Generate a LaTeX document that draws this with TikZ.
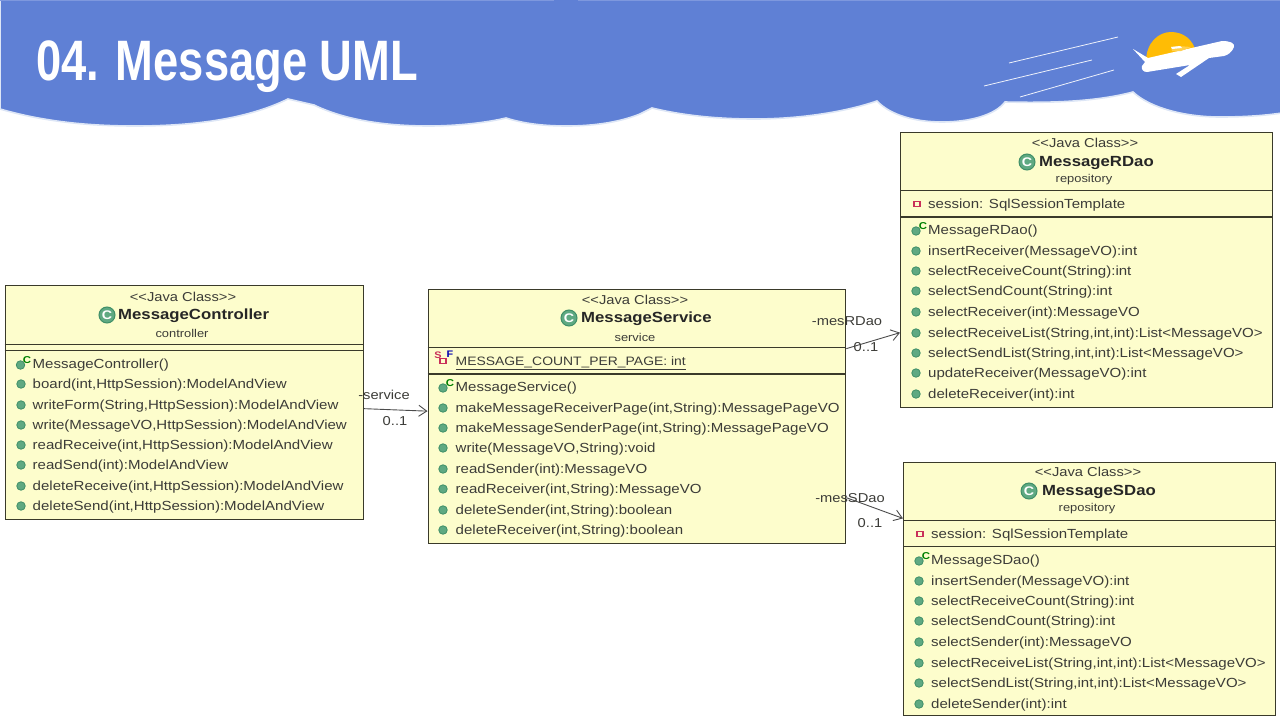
\documentclass[tikz,border=0pt]{standalone}
\usepackage{fontspec}
\usetikzlibrary{arrows.meta}
\newfontfamily\umlfont[FakeStretch=1.14]{Liberation Sans}
\newfontfamily\titlefont[FakeStretch=0.795]{Liberation Sans}
\definecolor{bannerblue}{HTML}{5F80D5}
\definecolor{bannerrim}{HTML}{DDE6F6}
\definecolor{bannertop}{HTML}{7E98DE}
\definecolor{sunyellow}{HTML}{FFBC05}
\definecolor{boxfill}{HTML}{FDFDCC}
\definecolor{boxline}{HTML}{3A3A2A}
\definecolor{membertext}{HTML}{3C3C38}
\definecolor{bulletfill}{HTML}{5FA982}
\definecolor{bulletline}{HTML}{3F8F68}
\definecolor{fieldred}{HTML}{C9305A}
\tikzset{
  classbox/.style={draw=boxline, fill=boxfill, line width=1.3pt, inner sep=0pt, anchor=north west},
  sectionrule/.style={draw=boxline, line width=1.2pt},
  stereotype/.style={inner sep=0pt, text=membertext, font=\umlfont\fontsize{12.9}{15}\selectfont},
  classname/.style={inner sep=0pt, anchor=mid west, yshift=-2.5pt, text=black!85, font=\umlfont\bfseries\fontsize{14.7}{17}\selectfont},
  pkgname/.style={inner sep=0pt, text=membertext, font=\umlfont\fontsize{11.3}{13}\selectfont},
  member/.style={inner sep=0pt, anchor=mid west, yshift=-2.5pt, text=membertext, font=\umlfont\fontsize{13.2}{16}\selectfont},
  capsmember/.style={member, font=\umlfont\fontsize{12.2}{16}\selectfont},
  bullet/.style={circle, draw=bulletline, fill=bulletfill, line width=0.8pt, minimum size=8.5pt, inner sep=0pt},
  classicon/.style={circle, draw=bulletline, fill=bulletfill, line width=1pt, minimum size=16pt, inner sep=0pt, text=white, font=\umlfont\bfseries\fontsize{12.5}{12.5}\selectfont},
  ctormark/.style={inner sep=0pt, text=green!50!black, font=\umlfont\bfseries\fontsize{10}{10}\selectfont},
  fieldicon/.style={rectangle, draw=fieldred, fill=boxfill, line width=1.2pt, minimum width=6pt, minimum height=5pt, inner sep=0pt},
  assoc/.style={draw=black!70, line width=0.9pt, -{Straight Barb[length=8pt,width=11pt]}},
  rolelabel/.style={inner sep=0pt, text=membertext, font=\umlfont\fontsize{12.9}{15}\selectfont},
  speedline/.style={draw=white!90!bannerblue, line width=0.8pt},
}
\begin{document}
\begin{tikzpicture}[x=1pt, y=-1pt]
  \useasboundingbox (0,0) rectangle (1280,720);
  % banner
  \path[fill=bannerblue, draw=bannerrim, line width=1.6pt] (0,-2) -- (0,109)
    .. controls (45,122) and (90,126) .. (135,126)
    .. controls (190,126) and (245,120) .. (288,99)
    -- (314,105)
    .. controls (345,120) and (385,126) .. (429,126)
    .. controls (455,126) and (485,123) .. (506,118)
    .. controls (525,124) and (545,126) .. (567,126)
    .. controls (595,126) and (620,122) .. (640,114)
    -- (652,108)
    .. controls (685,116) and (720,119) .. (754,119)
    .. controls (800,119) and (845,112) .. (877,101)
    .. controls (890,115) and (915,122) .. (942,122)
    .. controls (970,122) and (995,115) .. (1005,102)
    .. controls (1050,103) and (1095,102) .. (1133,92)
    .. controls (1150,108) and (1185,117) .. (1220,117)
    .. controls (1240,117) and (1262,116) .. (1282,113)
    -- (1282,-2) -- cycle;
  \fill[bannertop] (0,0) rectangle (554,1.2);
  \fill[bannertop] (578,0) rectangle (1280,1.2);
  \node[inner sep=0pt, anchor=base west, text=white, font=\titlefont\bfseries\fontsize{57}{60}\selectfont] (title) at (36,80) {04. Message UML};
  % plane and sun
  \fill[sunyellow] (1146,62) .. controls (1146,42) and (1159,32) .. (1171,32) .. controls (1184,32) and (1193,40) .. (1196,52) -- cycle;
  \fill[white] (1133,49) -- (1148,58) -- (1222,41) .. controls (1230,41) and (1235,43) .. (1234,47) .. controls (1232,52) and (1228,55) .. (1224,56) -- (1209,58) -- (1181,77) -- (1176,74) -- (1190,65) -- (1147,72) .. controls (1143,72) and (1141,69) .. (1142,66) -- (1145,62) -- cycle;
  \fill[sunyellow!70!white] (1171,47) -- (1178,46) -- (1191,47) -- (1181,51) -- (1172,51) -- cycle;
  \fill[white] (1171,47) -- (1180,46) -- (1182,48) -- (1172,49) -- cycle;
  \draw[speedline] (1009,63) -- (1118,37);
  \draw[speedline] (984,86) -- (1092,60);
  \draw[speedline] (1020,97) -- (1114,70);
  % MessageController
  \node[classbox, minimum width=358pt, minimum height=234pt] (ctrl) at (4.5,285) {};
  \draw[sectionrule] (4.5,344.5) -- (362.5,344.5);
  \draw[sectionrule] (4.5,350.5) -- (362.5,350.5);
  \node[stereotype] (ctrlst) at (183,296.5) {<{}<Java Class>{}>};
  \node[classicon] (ctrlicon) at (107,315) {C};
  \node[classname] (ctrlname) at (118,315) {MessageController};
  \node[pkgname] (ctrlpkg) at (182,333) {controller};
  \node[bullet] (ctrlbc) at (20.5,365) {};
  \node[ctormark] (ctrlcm) at (27,360) {C};
  \node[member] (ctrlm) at (32.5,364) {MessageController()};
  \foreach \y/\txt in {384/{board(int,HttpSession):ModelAndView}, 405/{writeForm(String,HttpSession):ModelAndView}, 425/{write(MessageVO,HttpSession):ModelAndView}, 445/{readReceive(int,HttpSession):ModelAndView}, 465/{readSend(int):ModelAndView}, 486/{deleteReceive(int,HttpSession):ModelAndView}, 506/{deleteSend(int,HttpSession):ModelAndView}} {
    \node[bullet] (ctrlb\y) at (21,\y) {};
    \node[member] (ctrlm\y) at (32.5,\y) {\txt};
  }
  % MessageService
  \node[classbox, minimum width=417.5pt, minimum height=254pt] (svc) at (427.5,289) {};
  \draw[sectionrule] (427.5,347.5) -- (845,347.5);
  \draw[sectionrule] (427.5,374) -- (845,374);
  \node[stereotype] (svcst) at (635,300) {<{}<Java Class>{}>};
  \node[classicon] (svcicon) at (569,318) {C};
  \node[classname] (svcname) at (581,318) {MessageService};
  \node[pkgname] (svcpkg) at (635,337) {service};
  \node[fieldicon] (svcfi) at (443,361) {};
  \node[inner sep=0pt, text=fieldred, font=\umlfont\bfseries\fontsize{9.5}{10}\selectfont] (svcfs) at (438,355) {S};
  \node[inner sep=0pt, text=blue!70!black, font=\umlfont\bfseries\fontsize{9.5}{10}\selectfont] (svcff) at (450,354) {F};
  \node[capsmember] (svcattr) at (455.5,361) {\underline{MESSAGE\_COUNT\_PER\_PAGE: int}};
  \node[bullet] (svcbc) at (443,388) {};
  \node[ctormark] (svccm) at (450,383) {C};
  \node[member] (svcm) at (455.5,387) {MessageService()};
  \foreach \y/\txt in {408/{makeMessageReceiverPage(int,String):MessagePageVO}, 428/{makeMessageSenderPage(int,String):MessagePageVO}, 448/{write(MessageVO,String):void}, 469/{readSender(int):MessageVO}, 489/{readReceiver(int,String):MessageVO}, 510/{deleteSender(int,String):boolean}, 530/{deleteReceiver(int,String):boolean}} {
    \node[bullet] (svcb\y) at (443,\y) {};
    \node[member] (svcm\y) at (455.5,\y) {\txt};
  }
  % MessageRDao
  \node[classbox, minimum width=372pt, minimum height=275pt] (rdao) at (900,132) {};
  \draw[sectionrule] (900,190.5) -- (1272,190.5);
  \draw[sectionrule] (900,217) -- (1272,217);
  \node[stereotype] (rdaost) at (1085,143) {<{}<Java Class>{}>};
  \node[classicon] (rdaoicon) at (1027,162) {C};
  \node[classname] (rdaoname) at (1039,162) {MessageRDao};
  \node[pkgname] (rdaopkg) at (1084,180) {repository};
  \node[fieldicon] (rdaofi) at (917,204) {};
  \node[member] (rdaoattr) at (928,204) {session: SqlSessionTemplate};
  \node[bullet] (rdaobc) at (916,231) {};
  \node[ctormark] (rdaocm) at (923,226) {C};
  \node[member] (rdaom) at (928,230) {MessageRDao()};
  \foreach \y/\txt in {251/{insertReceiver(MessageVO):int}, 271/{selectReceiveCount(String):int}, 291/{selectSendCount(String):int}, 312/{selectReceiver(int):MessageVO}, 333/{selectReceiveList(String,int,int):List<MessageVO>}, 353/{selectSendList(String,int,int):List<MessageVO>}, 373/{updateReceiver(MessageVO):int}, 394/{deleteReceiver(int):int}} {
    \node[bullet] (rdaob\y) at (916,\y) {};
    \node[member] (rdaom\y) at (928,\y) {\txt};
  }
  % MessageSDao
  \node[classbox, minimum width=372pt, minimum height=253.5pt] (sdao) at (903,461.5) {};
  \draw[sectionrule] (903,520.5) -- (1275,520.5);
  \draw[sectionrule] (903,546.5) -- (1275,546.5);
  \node[stereotype] (sdaost) at (1088,472) {<{}<Java Class>{}>};
  \node[classicon] (sdaoicon) at (1029,491) {C};
  \node[classname] (sdaoname) at (1042,491) {MessageSDao};
  \node[pkgname] (sdaopkg) at (1087,509) {repository};
  \node[fieldicon] (sdaofi) at (920,534) {};
  \node[member] (sdaoattr) at (931,534) {session: SqlSessionTemplate};
  \node[bullet] (sdaobc) at (919,561) {};
  \node[ctormark] (sdaocm) at (926,556) {C};
  \node[member] (sdaom) at (931,560) {MessageSDao()};
  \foreach \y/\txt in {581/{insertSender(MessageVO):int}, 601/{selectReceiveCount(String):int}, 621/{selectSendCount(String):int}, 642/{selectSender(int):MessageVO}, 663/{selectReceiveList(String,int,int):List<MessageVO>}, 683/{selectSendList(String,int,int):List<MessageVO>}, 704/{deleteSender(int):int}} {
    \node[bullet] (sdaob\y) at (919,\y) {};
    \node[member] (sdaom\y) at (931,\y) {\txt};
  }
  % associations
  \draw[assoc] ([yshift=-6pt]ctrl.east) -- ([yshift=5.5pt]svc.west);
  \draw[assoc] ([yshift=68pt]svc.east) -- ([yshift=-62.5pt]rdao.west);
  \draw[assoc] ([yshift=-81pt]svc.east) -- ([yshift=70.5pt]sdao.west);
  \node[rolelabel] (svcrole) at (384,395) {-service};
  \node[rolelabel] (svcmult) at (395,421) {0..1};
  \node[rolelabel] (rdaorole) at (847,321) {-mesRDao};
  \node[rolelabel] (rdaomult) at (866,347) {0..1};
  \node[rolelabel] (sdaorole) at (850,498) {-mesSDao};
  \node[rolelabel] (sdaomult) at (870,523) {0..1};
\end{tikzpicture}
\end{document}
